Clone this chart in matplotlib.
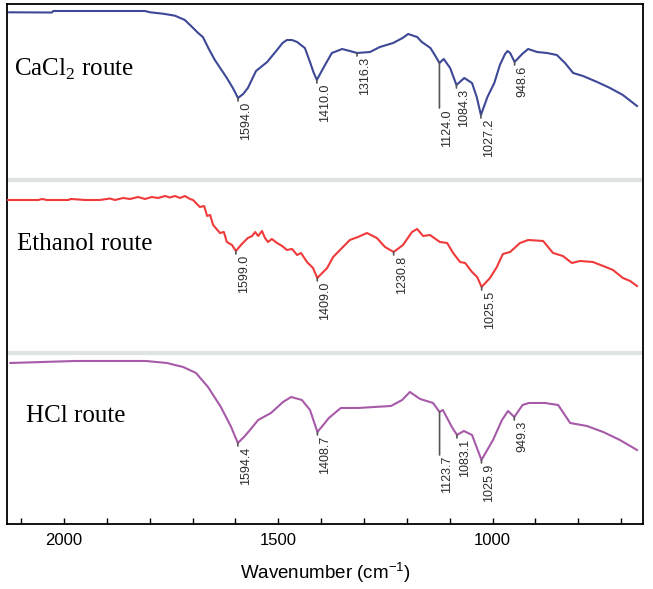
import numpy as np
import matplotlib
matplotlib.use("Agg")
import matplotlib.pyplot as plt
from matplotlib.ticker import MultipleLocator

# FTIR spectra, wavenumber (cm-1) vs. relative transmittance (arb. units)
cacl2_wn = [2128, 2028, 2025, 1811, 1799, 1769, 1741, 1718, 1701, 1687, 1676, 1662, 1648, 1634, 1620,
            1606, 1594.0, 1582, 1571, 1552, 1526, 1503, 1490, 1480, 1468, 1456, 1438, 1426, 1418,
            1410.0, 1400, 1391, 1375, 1351, 1333, 1316.3, 1286, 1263, 1232, 1210, 1197, 1176, 1165,
            1145, 1132, 1124.0, 1114, 1099, 1084.3, 1066, 1048, 1037, 1027.2, 1012, 996, 983, 971,
            965, 959, 948.6, 931, 917, 896, 873, 850, 831, 812, 789, 756, 726, 696, 663]
cacl2_int = [167.7, 167.5, 169, 169, 167.7, 166.3, 164.3, 160, 153, 147, 143, 131, 120, 111, 102,
             92, 82, 86, 92, 109, 118, 130, 137, 140, 140, 138, 132, 118, 108,
             100, 108, 115, 127, 131, 129, 127, 128, 133, 137, 142, 146, 143, 138,
             132, 123, 117, 121, 112, 95, 102, 97, 83, 65, 83, 97, 115, 126,
             129, 127, 118, 126, 131, 128, 127, 125, 117, 107, 104, 98, 92, 85, 74]

ethanol_wn = [2131, 2060, 2051, 2040, 1990, 1984, 1950, 1916, 1893, 1881, 1862, 1846, 1827, 1811,
              1795, 1781, 1764, 1753, 1741, 1729, 1718, 1706, 1699, 1683, 1673, 1666, 1659, 1652,
              1636, 1627, 1620, 1608, 1599.0, 1585, 1571, 1561, 1554, 1547, 1538, 1531, 1524, 1515,
              1503, 1491, 1480, 1468, 1456, 1447, 1433, 1419, 1409.0, 1386, 1372, 1356, 1333, 1314,
              1293, 1270, 1251, 1230.8, 1209, 1188, 1176, 1162, 1146, 1123, 1106, 1092, 1076, 1064,
              1048, 1036, 1025.5, 1006, 990, 976, 959, 936, 917, 882, 859, 836, 815, 796,
              766, 742, 719, 696, 679, 663]
ethanol_int = [153, 153, 154, 153, 153, 154, 153, 153, 154.5, 153, 155, 154, 156, 154,
               156, 155, 157, 155.5, 157, 155, 157, 154, 153, 146, 147, 137, 138, 128,
               120, 121, 111, 108, 102, 109, 115, 117, 121, 117, 122, 115, 111, 114,
               110, 107, 103, 104, 98, 100, 91, 85, 75, 85, 96, 103, 113, 116,
               120, 115, 106, 101, 108, 121, 124, 117, 118, 111, 110, 100, 91, 90,
               81, 76, 66, 75, 86, 99, 101, 110, 113, 112, 100, 97, 90, 92,
               91, 87, 83, 75, 72, 67]

hcl_wn = [2125, 1974, 1809, 1760, 1722, 1692, 1664, 1634, 1610, 1594.4, 1580, 1566, 1547, 1517, 1489,
          1470, 1445, 1426, 1408.7, 1395, 1382, 1354, 1314, 1275, 1237, 1211, 1193, 1169, 1139, 1123.7,
          1116, 1095, 1083.1, 1067, 1048, 1025.9, 999, 978, 964, 949.3, 930, 915, 878, 847, 819,
          780, 742, 703, 663]
hcl_int = [161, 163, 163, 161, 157, 151, 137, 117, 97, 81, 87, 94, 104, 111, 122,
           127, 124, 114, 92, 99, 106, 116, 116, 117, 118, 124, 132, 125, 121, 112,
           114, 97, 89, 93, 89, 64, 84, 104, 113, 107, 119, 121, 121, 119, 101,
           98, 92, 84, 74]

cacl2_peaks = [1594.0, 1410.0, 1316.3, 1124.0, 1084.3, 1027.2, 948.6]
ethanol_peaks = [1599.0, 1409.0, 1230.8, 1025.5]
hcl_peaks = [1594.4, 1408.7, 1123.7, 1083.1, 1025.9, 949.3]

cacl2_leads = [0, 0, 0, 42, 0, 0, 0]
ethanol_leads = [0, 0, 0, 0]
hcl_leads = [0, 0, 40, 0, 0, 0]

panels = [
    ("CaCl$_\\mathregular{2}$ route", cacl2_wn, cacl2_int, cacl2_peaks, cacl2_leads, "#3d4896", 344, (2117, 448)),
    ("Ethanol route", ethanol_wn, ethanol_int, ethanol_peaks, ethanol_leads, "#f03a3a", 171, (2110, 274)),
    ("HCl route", hcl_wn, hcl_int, hcl_peaks, hcl_leads, "#a65aa8", 0, (2088, 102)),
]

fig = plt.figure(figsize=(6.53, 5.89), dpi=100)
ax = fig.add_axes([0.0107, 0.1104, 0.9740, 0.8828])

for name, wn, inten, peaks, leads, color, offset, (tx, ty) in panels:
    wn = np.array(wn, dtype=float)
    y = np.array(inten, dtype=float) + offset
    ax.plot(wn, y, color=color, lw=1.5, zorder=3)
    ax.text(tx, ty, name, family="Liberation Serif", fontsize=18, va="baseline", ha="left")
    for p, lead in zip(peaks, leads):
        yp = np.interp(p, wn[::-1], y[::-1])
        ax.annotate("", xy=(p, yp), xytext=(0, -3 - lead), textcoords="offset pixels",
                    arrowprops=dict(arrowstyle="-", color="#555555", lw=1.2, shrinkA=0, shrinkB=0))
        ax.annotate(f"{p:.1f}", xy=(p, yp), xytext=(2, -4 - lead), textcoords="offset pixels",
                    rotation=90, ha="left", va="top", fontsize=9, color="#2b2b2b",
                    family="Liberation Sans")

# light grey separators between the spectra
for sep in [344, 171]:
    ax.plot([2127, 653], [sep, sep], color="#dfe3e3", lw=3, zorder=1)

ax.set_xlim(2133, 649)
ax.set_ylim(0, 520)
ax.set_yticks([])
ax.xaxis.set_major_locator(MultipleLocator(500))
ax.xaxis.set_minor_locator(MultipleLocator(100))
ax.tick_params(axis="x", which="both", direction="in", length=4, width=1, pad=6.5)
for lbl in ax.get_xticklabels():
    lbl.set_family("Liberation Sans")
    lbl.set_fontsize(12)
for s in ax.spines.values():
    s.set_linewidth(1.3)
ax.set_xlabel("Wavenumber (cm$^{\\mathregular{-1}}$)", family="Liberation Sans", fontsize=13.5, labelpad=9)

fig.savefig("out.png", dpi=100)
